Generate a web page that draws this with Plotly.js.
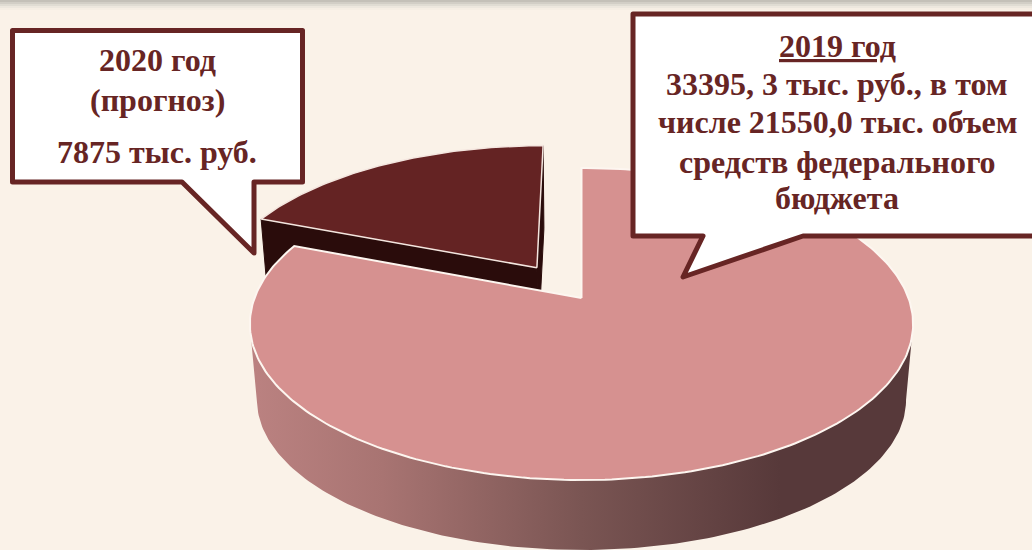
<!DOCTYPE html>
<html><head><meta charset="utf-8">
<script src="https://cdn.plot.ly/plotly-3.0.1.min.js"></script>
<style>html,body{margin:0;padding:0;background:#FAF2E8;overflow:hidden}#c{width:1032px;height:550px}
.shapelayer path{stroke-linejoin:round}</style></head>
<body><div id="c"></div>
<script>
// ---- data ----
const categories = ['2019 год', '2020 год (прогноз)'];
const values = [33395.3, 7875];
const pulls = [0, 0.25];
const leftLines = ['2020 год', '(прогноз)', '7875 тыс. руб.'];
const rightLines = ['<u>2019 год</u>', '33395, 3 тыс. руб., в том', 'числе 21550,0 тыс. объем', 'средств федерального', 'бюджета'];

// ---- style / projection of the tilted disc ----
const INK = '#672524', BG = '#FAF2E8';
const topColors = ['#D69190', '#642323'];
const FACE_DARK = '#2A0C0B';
const K = 1 / 6;
const CX = 581.5;
const TOP_PLANE = {a: 327, b: 151.7, y0: 298};
const BASE_PLANE = {a: 320, b: 145.8, y0: 375};

function project(p, u, v) {
  const d = 1 + K * v;
  return [CX + p.a * u / d, p.y0 - p.b * v / d];
}
const total = values.reduce((s, x) => s + x, 0);
const DEG = Math.PI / 180;
let acc = 0;
const slices = values.map((val, i) => {
  const a0 = acc / total * 360, a1 = (acc + val) / total * 360;
  acc += val;
  const mid = (a0 + a1) / 2 * DEG;
  return {a0, a1, ox: pulls[i] * Math.sin(mid), oy: pulls[i] * Math.cos(mid)};
});
function rim(p, s, deg) {
  return project(p, s.ox + Math.sin(deg * DEG), s.oy + Math.cos(deg * DEG));
}
function centre(p, s) { return project(p, s.ox, s.oy); }
function sector(p, s) {
  const pts = [centre(p, s)];
  const n = Math.ceil(s.a1 - s.a0);
  for (let j = 0; j <= n; j++) pts.push(rim(p, s, s.a0 + (s.a1 - s.a0) * j / n));
  pts.push(centre(p, s));
  return pts;
}
function poly(pts, extra) {
  return Object.assign({
    x: pts.map(q => q[0]), y: pts.map(q => q[1]),
    mode: 'lines', fill: 'toself', hoverinfo: 'skip', showlegend: false,
  }, extra);
}
function innerFace(s, deg) {
  return [centre(TOP_PLANE, s), rim(TOP_PLANE, s, deg), rim(BASE_PLANE, s, deg), centre(BASE_PLANE, s), centre(TOP_PLANE, s)];
}
function frontWall(s) {
  // front of the cylinder: rim from the left tangent through the bottom to the right tangent
  const tangent = Math.acos(-K) / DEG;
  const top = [], base = [];
  for (let d = tangent; d <= 360 - tangent + 1e-6; d += 1) {
    top.push(rim(TOP_PLANE, s, d));
    base.push(rim(BASE_PLANE, s, d));
  }
  return top.concat(base.reverse(), [top[0]]);
}
const [mainS, smallS] = slices;
const traces = [
  poly(innerFace(smallS, smallS.a1), {fillcolor: FACE_DARK, line: {color: FACE_DARK, width: 1}, name: categories[1] + ' face'}),
  poly(innerFace(smallS, smallS.a0), {fillcolor: FACE_DARK, line: {color: FACE_DARK, width: 1}, name: categories[1] + ' face'}),
  poly(sector(TOP_PLANE, smallS), {fillcolor: topColors[1], line: {color: '#F4E6DF', width: 1.5}, name: categories[1]}),
  poly(frontWall(mainS), {
    line: {color: 'rgba(0,0,0,0)', width: 0}, name: categories[0] + ' wall',
    fillgradient: {type: 'horizontal', colorscale: [[0, '#BB8281'], [0.2, '#A87472'], [0.5, '#7A5553'], [0.8, '#57393A'], [1, '#57393A']]}
  }),
  poly(sector(TOP_PLANE, mainS), {fillcolor: topColors[0], line: {color: '#FDF6F0', width: 2}, name: categories[0]}),
];

const shapeBase = {type: 'path', xref: 'x', yref: 'y', fillcolor: '#FFFFFF', line: {color: INK, width: 5}};
const shapes = [
  Object.assign({}, shapeBase, {path: 'M12.5,30.5 H302.5 V182 H254 V253 L182,182 H12.5 Z'}),
  Object.assign({}, shapeBase, {path: 'M633,14 H1040 V236 H803 L683,277 L703,236 H633 Z'}),
];
// soft gray strip along the top edge
['#C4C0B8', '#D2CEC6', '#E0DCD3', '#EDE7DE', '#F6EEE4'].forEach((c, i) => shapes.unshift({
  type: 'rect', xref: 'x', yref: 'y', x0: 0, x1: 1032, y0: i * 2, y1: i * 2 + 2,
  fillcolor: c, line: {width: 0}, layer: 'below'
}));

function label(text, x, y) {
  return {text, x, y, xref: 'x', yref: 'y', showarrow: false, xanchor: 'center', yanchor: 'middle',
    font: {family: '"Liberation Serif", serif', size: 32, color: INK}};
}
const leftPos = [[157, 60], [157, 100], [157, 152]];
const rightPos = [[837, 46], [837, 84], [838, 122], [837, 162], [837, 198]];
const annotations = leftLines.map((t, i) => label('<b>' + t + '</b>', leftPos[i][0], leftPos[i][1]))
  .concat(rightLines.map((t, i) => label('<b>' + t + '</b>', rightPos[i][0], rightPos[i][1])));

Plotly.newPlot('c', traces, {
  width: 1032, height: 550, margin: {l: 0, r: 0, t: 0, b: 0},
  paper_bgcolor: BG, plot_bgcolor: BG, showlegend: false,
  xaxis: {range: [0, 1032], visible: false, fixedrange: true},
  yaxis: {range: [550, 0], visible: false, fixedrange: true},
  shapes, annotations
}, {displayModeBar: false, staticPlot: true});
</script></body></html>
